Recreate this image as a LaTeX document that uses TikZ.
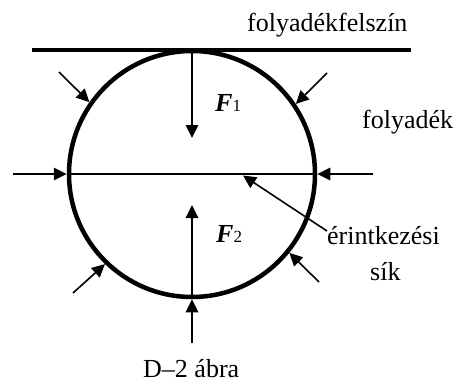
\documentclass[tikz,border=0pt]{standalone}
\usepackage{fontspec}
\setmainfont{Liberation Serif}
\usetikzlibrary{arrows.meta}
\begin{document}
\begin{tikzpicture}[x=1pt,y=-1pt,
  lbl/.style={inner sep=0pt,anchor=base west,font=\fontsize{26}{30}\selectfont},
  flbl/.style={inner sep=0pt,anchor=base west,font=\fontsize{26}{30}\selectfont},
  thin/.style={line width=1.6pt},
  arr/.style={line width=1.6pt,-{Triangle[length=13pt,width=12.5pt]}},
  thick/.style={line width=4pt}]
\useasboundingbox (0,0) rectangle (458,383);
% surface line
\coordinate (s1) at (32,50);
\coordinate (s2) at (411,50);
\draw[thick] (s1) -- (s2);
% ball
\node[circle,draw,line width=4.5pt,minimum size=246pt,inner sep=0pt] (c) at (192,174) {};
% contact plane
\coordinate (hl) at (13,174);
\coordinate (hr) at (373,174);
\draw[thin] (c.west) -- (c.east);
\draw[arr] (hl) -- (c.west);
\draw[arr] (hr) -- (c.east);
% diagonal pressure arrows
\coordinate (tl) at (59,72);
\coordinate (tr) at (327,73);
\coordinate (bl) at (73,293);
\coordinate (br) at (319,282);
\draw[arr] (tl) -- (c.145);
\draw[arr] (tr) -- (c.34);
\draw[arr] (bl) -- (c.226);
\draw[arr] (br) -- (c.321);
% F1 and F2
\coordinate (f1s) at (192,50);
\coordinate (f1e) at (192,138);
\draw[arr] (f1s) -- (f1e);
\coordinate (f2e) at (192,205);
\draw[arr] (c.south) -- (f2e);
\coordinate (bt) at (192,343);
\draw[arr] (bt) -- (c.south);
% labels
\node[flbl] (F1) at (215,111) {\textbf{\textit{F}}{\fontsize{17}{20}\selectfont 1}};
\node[flbl] (F2) at (216,242) {\textbf{\textit{F}}{\fontsize{17}{20}\selectfont 2}};
\node[lbl] (surf) at (247,31) {folyadékfelszín};
\node[lbl] (liq) at (362,128) {folyadék};
\node[lbl] (er) at (327,244) {érintkezési};
\node[lbl] (sik) at (370,280) {sík};
\node[lbl] (cap) at (143,377) {D–2 ábra};
% pointer to contact plane
\coordinate (pt) at (243,175.5);
\coordinate (ps) at (327,231);
\draw[arr] (ps) -- (pt);
\end{tikzpicture}
\end{document}
